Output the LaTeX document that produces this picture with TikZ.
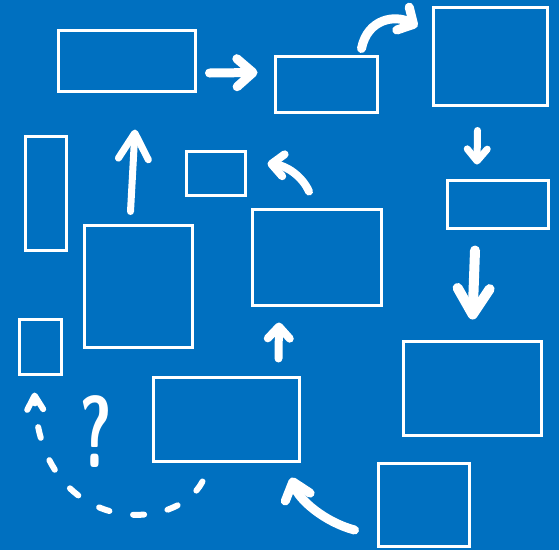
\documentclass[tikz,border=0pt]{standalone}
\usepackage{tikz}
\usetikzlibrary{arrows.meta,calc}
\definecolor{bg}{RGB}{0,112,192}
\tikzset{%
   box/.style={draw=white, line width=3pt, inner sep=0pt, outer sep=0pt},
   arr/.style={draw=white, line width=#1, line cap=round, line join=round},
   arr/.default=8pt,
   hd/.style 2 args={arrows={-Straight Barb[round, length=#1, width=#2]}},
}

\begin{document}
\begin{tikzpicture}[x=1pt, y=-1pt]
      \useasboundingbox (0,0) rectangle (559,550);
      \fill[bg] (0,0) rectangle (559,550);
      \node[box, minimum width=137pt, minimum height=61pt] (b1) at (127,61) {};
      \node[box, minimum width=102pt, minimum height=56pt] (b2) at (326.5,84.5) {};
      \node[box, minimum width=114pt, minimum height=98pt] (b3) at (490.5,56.5) {};
      \node[box, minimum width=101pt, minimum height=48pt] (b4) at (498,204.5) {};
      \node[box, minimum width=138pt, minimum height=94pt] (b5) at (472.5,388.5) {};
      \node[box, minimum width=91pt, minimum height=83pt] (b6) at (424,505) {};
      \node[box, minimum width=129pt, minimum height=96pt] (b7) at (317,257.5) {};
      \node[box, minimum width=59pt, minimum height=44pt] (b8) at (216,173.5) {};
      \node[box, minimum width=41pt, minimum height=114pt] (b9) at (46,193.5) {};
      \node[box, minimum width=108pt, minimum height=122pt] (b10) at (138.5,286.5) {};
      \node[box, minimum width=42pt, minimum height=55pt] (b11) at (40.5,347) {};
      \node[box, minimum width=146pt, minimum height=84pt] (b12) at (226.5,419.5) {};
      \node[text=white, inner sep=0pt, anchor=base, xscale=0.62,
            font=\sffamily\bfseries\fontsize{102}{102}\selectfont] (q) at (96,467) {?};
      \draw[arr=9pt, hd={16pt}{28pt}] ($(b1.east)+(14,12)$) -- ($(b2.west)+(-18,-12)$);
      \draw[arr=9pt, hd={12pt}{26pt}] ($(b2.north)+(35,-8)$) .. controls +(6,-30) and +(-22,-12) .. ($(b3.west)+(-16,-30)$);
      \draw[arr=7pt, hd={12pt}{20pt}] ($(b3.south)+(-13,25)$) -- ($(b4.north)+(-21,-16)$);
      \draw[arr=10pt, hd={26pt}{32pt}] ($(b4.south)+(-23,22)$) -- ($(b5.north)+(0,-22)$);
      \draw[arr=8pt, hd={12pt}{22pt}] ($(b12.north)+(52,-19)$) -- ($(b7.south)+(-38,17)$);
      \draw[arr=9pt, hd={16pt}{26pt}] ($(b6.west)+(-24,25)$) .. controls +(-30,-8) and +(7,22) .. ($(b12.south east)+(-8,16)$);
      \draw[arr=8pt, hd={12pt}{22pt}] ($(b7.north)+(-8,-18)$) .. controls +(-7,-16) and +(18,2) .. ($(b8.east)+(22,-10)$);
      \draw[arr=7pt, hd={26pt}{30pt}] ($(b10.north)+(-8,-14)$) -- ($(b1.south)+(8,38)$);
      \draw[arr=6pt, dash pattern=on 11pt off 24pt, hd={14pt}{16pt}] ($(b12.south)+(-24,20)$) .. controls +(-28,54) and +(6,142) .. ($(b11.south)+(-6,18)$);
\end{tikzpicture}
\end{document}
